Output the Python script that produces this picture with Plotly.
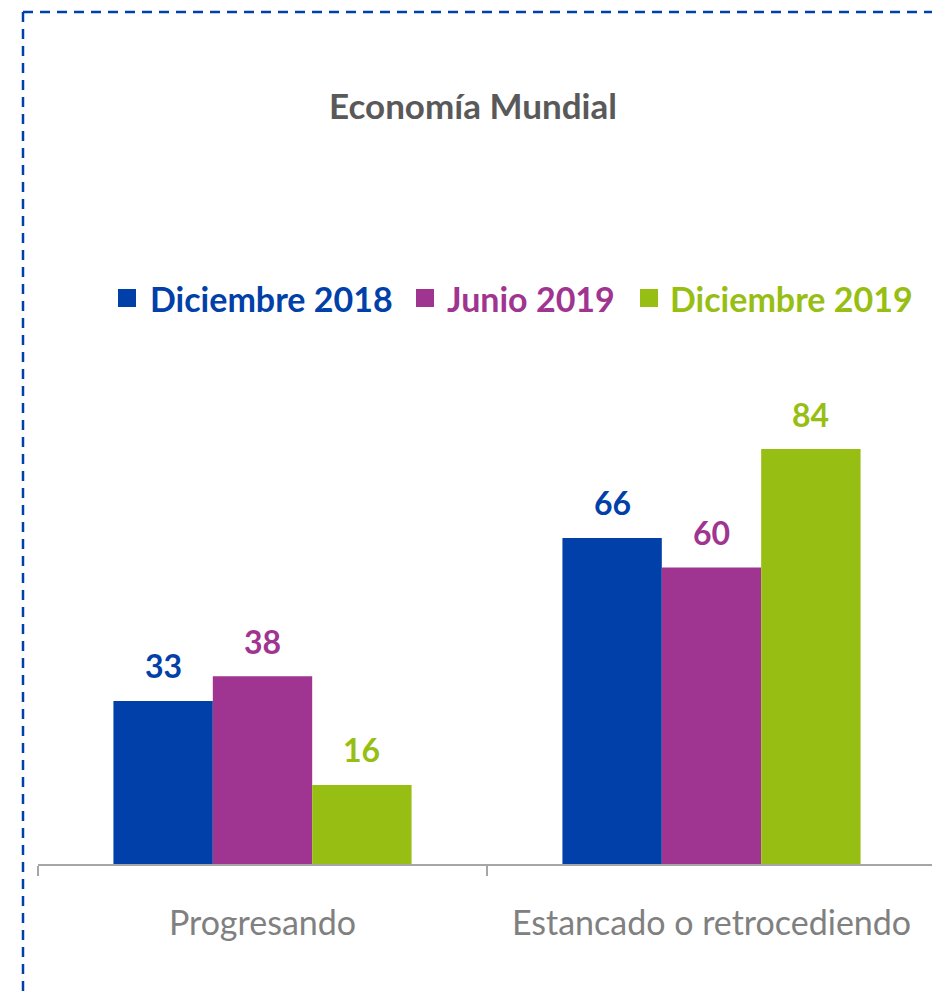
import plotly.graph_objects as go

# datos del gráfico
categorias = ["Progresando", "Estancado o retrocediendo"]
series = ["Diciembre 2018", "Junio 2019", "Diciembre 2019"]
valores = {
    "Diciembre 2018": [33, 66],
    "Junio 2019": [38, 60],
    "Diciembre 2019": [16, 84],
}
colores = ["#0040A8", "#9F3590", "#97BE12"]

W, H = 932, 994
ML, MR, MT, MB = 38, 0, 370, 130
PW, PH = W - ML - MR, H - MT - MB
BARGAP = 0.336
FONT = "Lato"

# posiciones de la leyenda (px): cuadrado y texto
LEYENDA_X = [(118, 148), (416, 445), (640, 668)]
LEYENDA_Y = 298


def px_x(px):
    return (px - ML) / PW


def px_y(py):
    return (H - MB - py) / PH


fig = go.Figure()

ancho = (1 - BARGAP) / len(series)
for j, (nombre, color) in enumerate(zip(series, colores)):
    fig.add_trace(go.Bar(
        x=categorias,
        y=valores[nombre],
        name=nombre,
        marker=dict(color=color, line=dict(width=0)),
        showlegend=False,
    ))
    # etiquetas de valor
    for i, v in enumerate(valores[nombre]):
        fig.add_annotation(
            x=i + (j - 1) * ancho, y=v, xref="x", yref="y",
            text=f"<b>{v}</b>", showarrow=False,
            yanchor="middle", yshift=35,
            font=dict(family=FONT, size=32, color=color),
        )
    # leyenda manual
    xs, xt = LEYENDA_X[j]
    fig.add_shape(type="rect", xref="paper", yref="paper",
                  x0=px_x(xs), x1=px_x(xs + 18),
                  y0=px_y(LEYENDA_Y - 9), y1=px_y(LEYENDA_Y + 9),
                  fillcolor=color, line=dict(width=0))
    fig.add_annotation(
        x=px_x(xt), y=px_y(LEYENDA_Y), xref="paper", yref="paper",
        text=f"<b>{nombre}</b>", showarrow=False,
        xanchor="left", yanchor="middle",
        font=dict(family=FONT, size=34, color=color),
    )

# borde discontinuo
borde = dict(color="#0040A8", width=2.5, dash="10px,7px")
fig.add_shape(type="line", xref="paper", yref="paper",
              x0=px_x(23), x1=px_x(940), y0=px_y(12), y1=px_y(12), line=borde)
fig.add_shape(type="line", xref="paper", yref="paper",
              x0=px_x(23), x1=px_x(23), y0=px_y(12), y1=px_y(1000), line=borde)

fig.update_layout(
    width=W, height=H,
    margin=dict(l=ML, r=MR, t=MT, b=MB),
    paper_bgcolor="white", plot_bgcolor="white",
    barmode="group", bargap=BARGAP, bargroupgap=0,
    showlegend=False,
    title=dict(
        text="<b>Economía Mundial</b>",
        x=473 / W, xanchor="center",
        y=1 - 107 / H, yanchor="middle", yref="container",
        font=dict(family=FONT, size=35, color="#595959"),
    ),
    xaxis=dict(
        type="category",
        range=[-0.5, -0.5 + PW / (PW / 2 + 2)],
        showline=True, linecolor="#A6A6A6", linewidth=1.5,
        ticks="outside", tickson="boundaries", ticklen=10,
        tickcolor="#A6A6A6", tickwidth=1.5,
        ticklabelstandoff=28,
        tickfont=dict(family=FONT, size=34, color="#808080"),
        showgrid=False, zeroline=False, fixedrange=True,
    ),
    yaxis=dict(range=[0, 100], visible=False, fixedrange=True),
)

fig.write_html("out.html", config={"displayModeBar": False},
               post_script="document.body.style.margin='0';")
